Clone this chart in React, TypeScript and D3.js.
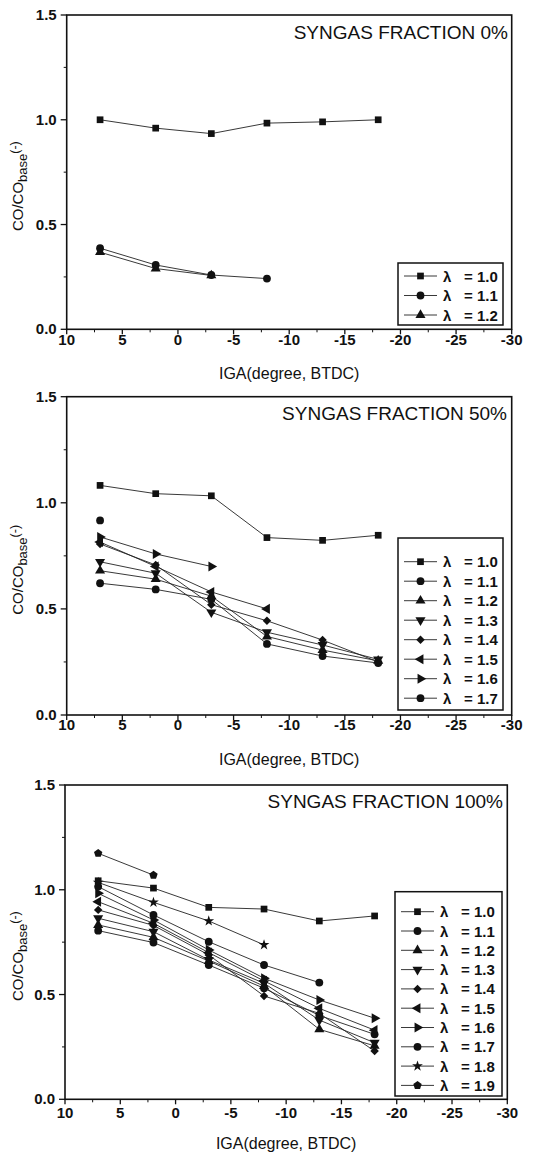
import React from 'react';
import * as d3 from 'd3';

// ---------- DATA ----------
const igaValues = [7, 2, -3, -8, -13, -18];
const xTickValues = [10, 5, 0, -5, -10, -15, -20, -25, -30];
const yTickValues = [0, 0.5, 1.0, 1.5];
const lambdaLabels = ['1.0', '1.1', '1.2', '1.3', '1.4', '1.5', '1.6', '1.7', '1.8', '1.9'];
const markerTypes = ['square', 'circle', 'triUp', 'triDown', 'diamond', 'triLeft', 'triRight', 'circle', 'star', 'pentagon'];
const panelTitles = ['SYNGAS FRACTION 0%', 'SYNGAS FRACTION 50%', 'SYNGAS FRACTION 100%'];
const xAxisTitle = 'IGA(degree, BTDC)';

// Syngas fraction 0%
const sg0_l10 = [1.0, 0.96, 0.934, 0.984, 0.99, 1.0];
const sg0_l11 = [0.387, 0.307, 0.259, 0.242, null, null];
const sg0_l12 = [0.368, 0.29, 0.257, null, null, null];

// Syngas fraction 50%
const sg50_l10 = [1.082, 1.043, 1.033, 0.836, 0.823, 0.847];
const sg50_l11 = [0.917, null, null, null, null, null];
const sg50_l12 = [0.68, 0.64, 0.56, 0.37, 0.306, 0.255];
const sg50_l13 = [0.722, 0.668, 0.484, 0.39, 0.33, 0.262];
const sg50_l14 = [0.806, 0.707, 0.52, 0.444, 0.353, 0.25];
const sg50_l15 = [0.815, 0.70, 0.58, 0.50, null, null];
const sg50_l16 = [0.839, 0.759, 0.70, null, null, null];
const sg50_l17 = [0.621, 0.592, 0.545, 0.335, 0.278, 0.245];

// Syngas fraction 100%
const sg100_l10 = [1.043, 1.008, 0.916, 0.908, 0.851, 0.875];
const sg100_l11 = [0.805, 0.748, 0.641, 0.53, 0.40, 0.31];
const sg100_l12 = [0.832, 0.773, 0.66, 0.54, 0.334, 0.255];
const sg100_l13 = [0.864, 0.80, 0.665, 0.554, 0.378, 0.27];
const sg100_l14 = [0.904, 0.83, 0.689, 0.493, 0.41, 0.23];
const sg100_l15 = [0.943, 0.84, 0.70, 0.565, 0.434, 0.33];
const sg100_l16 = [0.983, 0.856, 0.713, 0.578, 0.474, 0.387];
const sg100_l17 = [1.015, 0.88, 0.752, 0.641, 0.557, null];
const sg100_l18 = [1.035, 0.94, 0.851, 0.737, null, null];
const sg100_l19 = [1.174, 1.07, null, null, null, null];

const panelSeries = [
  [sg0_l10, sg0_l11, sg0_l12],
  [sg50_l10, sg50_l11, sg50_l12, sg50_l13, sg50_l14, sg50_l15, sg50_l16, sg50_l17],
  [sg100_l10, sg100_l11, sg100_l12, sg100_l13, sg100_l14, sg100_l15, sg100_l16, sg100_l17, sg100_l18, sg100_l19],
];

// ---------- LAYOUT ----------
const W = 537;
const H = 1154;
const FONT = '"Liberation Sans", Arial, Helvetica, sans-serif';
const INK = '#111';

const panelLayouts = [
  { left: 66.7, right: 511.7, top: 15, bottom: 329.3, tickGap: 16, titleBaseline: 39, titleRight: 508,
    legLeft: 398, legTop: 263, legRight: 503, legBottom: 325, legRow0: 276, legStep: 19.5 },
  { left: 66.7, right: 511.7, top: 396.7, bottom: 715, tickGap: 15, titleBaseline: 420, titleRight: 507,
    legLeft: 398, legTop: 538, legRight: 503, legBottom: 710, legRow0: 561.7, legStep: 19.5 },
  { left: 65, right: 507.3, top: 785, bottom: 1099.3, tickGap: 19, titleBaseline: 808, titleRight: 503,
    legLeft: 395, legTop: 891.7, legRight: 502, legBottom: 1096, legRow0: 911.7, legStep: 19.3 },
];

const pentagonSymbol = {
  draw(ctx: any, size: number) {
    const r = Math.sqrt(size / (2.5 * Math.sin((2 * Math.PI) / 5)));
    for (let i = 0; i < 5; i++) {
      const a = -Math.PI / 2 + (i * 2 * Math.PI) / 5;
      const x = r * Math.cos(a);
      const y = r * Math.sin(a);
      if (i === 0) ctx.moveTo(x, y);
      else ctx.lineTo(x, y);
    }
    ctx.closePath();
  },
};

function markerSpec(type: string): { path: string; rot: number } {
  switch (type) {
    case 'square':
      return { path: d3.symbol().type(d3.symbolSquare).size(45)() as string, rot: 0 };
    case 'circle':
      return { path: d3.symbol().type(d3.symbolCircle).size(48)() as string, rot: 0 };
    case 'triUp':
      return { path: d3.symbol().type(d3.symbolTriangle).size(44)() as string, rot: 0 };
    case 'triDown':
      return { path: d3.symbol().type(d3.symbolTriangle).size(44)() as string, rot: 180 };
    case 'triLeft':
      return { path: d3.symbol().type(d3.symbolTriangle).size(44)() as string, rot: -90 };
    case 'triRight':
      return { path: d3.symbol().type(d3.symbolTriangle).size(44)() as string, rot: 90 };
    case 'diamond':
      return { path: d3.symbol().type(d3.symbolSquare).size(36)() as string, rot: 45 };
    case 'star':
      return { path: d3.symbol().type(d3.symbolStar).size(36)() as string, rot: 0 };
    case 'pentagon':
      return { path: d3.symbol().type(pentagonSymbol as any).size(46)() as string, rot: 0 };
    default:
      return { path: d3.symbol().type(d3.symbolCircle).size(46)() as string, rot: 0 };
  }
}

function Marker({ type, x, y }: { type: string; x: number; y: number }) {
  const m = markerSpec(type);
  return <path d={m.path} transform={`translate(${x},${y}) rotate(${m.rot})`} fill={INK} stroke="none" />;
}

function Panel({ idx }: { idx: number }) {
  const L = panelLayouts[idx];
  const series = panelSeries[idx];
  const x = d3.scaleLinear().domain([10, -30]).range([L.left, L.right]);
  const y = d3.scaleLinear().domain([0, 1.5]).range([L.bottom, L.top]);
  const xMinor = d3.range(-30, 10.01, 2.5).filter((v) => Math.abs(v % 5) > 0.01);
  const yMinor = d3.range(0, 1.51, 0.25).filter((v) => Math.abs((v * 4) % 2) > 0.01);
  const line = d3
    .line<{ x: number; v: number | null }>()
    .defined((d) => d.v != null)
    .x((d) => x(d.x))
    .y((d) => y(d.v as number));

  const midY = (L.top + L.bottom) / 2 + 14;

  return (
    <g>
      {/* frame */}
      <rect x={L.left} y={L.top} width={L.right - L.left} height={L.bottom - L.top} fill="none" stroke={INK} strokeWidth={1.6} />
      {/* x ticks */}
      {xTickValues.map((t) => (
        <g key={'xt' + t}>
          <line x1={x(t)} x2={x(t)} y1={L.bottom} y2={L.bottom + 5} stroke={INK} strokeWidth={1.3} />
          <text x={x(t)} y={L.bottom + L.tickGap} textAnchor="middle" fontFamily={FONT} fontWeight="bold" fontSize={15} fill={INK}>
            {t}
          </text>
        </g>
      ))}
      {xMinor.map((t) => (
        <line key={'xm' + t} x1={x(t)} x2={x(t)} y1={L.bottom} y2={L.bottom + 3} stroke={INK} strokeWidth={1} />
      ))}
      {/* y ticks */}
      {yTickValues.map((t) => (
        <g key={'yt' + t}>
          <line x1={L.left - 6} x2={L.left} y1={y(t)} y2={y(t)} stroke={INK} strokeWidth={1.3} />
          <text x={L.left - 10} y={y(t) + 5} textAnchor="end" fontFamily={FONT} fontWeight="bold" fontSize={15} fill={INK}>
            {d3.format('.1f')(t)}
          </text>
        </g>
      ))}
      {yMinor.map((t) => (
        <line key={'ym' + t} x1={L.left - 3} x2={L.left} y1={y(t)} y2={y(t)} stroke={INK} strokeWidth={1} />
      ))}
      {/* axis titles */}
      <text x={(L.left + L.right) / 2} y={L.bottom + 50} textAnchor="middle" fontFamily={FONT} fontSize={16} fill={INK}>
        {xAxisTitle}
      </text>
      <text transform={`translate(23,${midY}) rotate(-90)`} textAnchor="middle" fontFamily={FONT} fontSize={15} fill={INK}>
        CO/CO
        <tspan dy={4} fontSize={13}>base</tspan>
        <tspan dy={-8} fontSize={12.5}>(-)</tspan>
      </text>
      {/* panel title */}
      <text x={L.titleRight} y={L.titleBaseline} textAnchor="end" fontFamily={FONT} fontSize={19} fill={INK}>
        {panelTitles[idx]}
      </text>
      {/* lines */}
      {series.map((s, i) => (
        <path
          key={'l' + i}
          d={line(igaValues.map((xv, j) => ({ x: xv, v: s[j] }))) || ''}
          fill="none"
          stroke="#222"
          strokeWidth={0.9}
        />
      ))}
      {/* markers */}
      {series.map((s, i) =>
        igaValues.map((xv, j) =>
          s[j] == null ? null : <Marker key={'m' + i + '-' + j} type={markerTypes[i]} x={x(xv)} y={y(s[j] as number)} />
        )
      )}
      {/* legend */}
      <rect x={L.legLeft} y={L.legTop} width={L.legRight - L.legLeft} height={L.legBottom - L.legTop} fill="white" stroke={INK} strokeWidth={1.5} />
      {series.map((_, i) => {
        const ry = L.legRow0 + i * L.legStep;
        return (
          <g key={'lg' + i}>
            <line x1={L.legLeft + 6} x2={L.legLeft + 39} y1={ry} y2={ry} stroke="#222" strokeWidth={0.9} />
            <Marker type={markerTypes[i]} x={L.legLeft + 22.5} y={ry} />
            <text x={L.legLeft + 45} y={ry + 5.5} fontFamily={FONT} fontWeight="bold" fontSize={15} fill={INK}>
              λ
            </text>
            <text x={L.legLeft + 66} y={ry + 5.5} fontFamily={FONT} fontWeight="bold" fontSize={15} fill={INK}>
              {'= ' + lambdaLabels[i]}
            </text>
          </g>
        );
      })}
    </g>
  );
}

export default function App() {
  return (
    <svg
      width={W}
      height={H}
      viewBox={`0 0 ${W} ${H}`}
      style={{ position: 'absolute', left: 0, top: 0, display: 'block', background: 'white' }}
    >
      <rect x={0} y={0} width={W} height={H} fill="white" />
      {panelLayouts.map((_, i) => (
        <Panel key={i} idx={i} />
      ))}
    </svg>
  );
}
